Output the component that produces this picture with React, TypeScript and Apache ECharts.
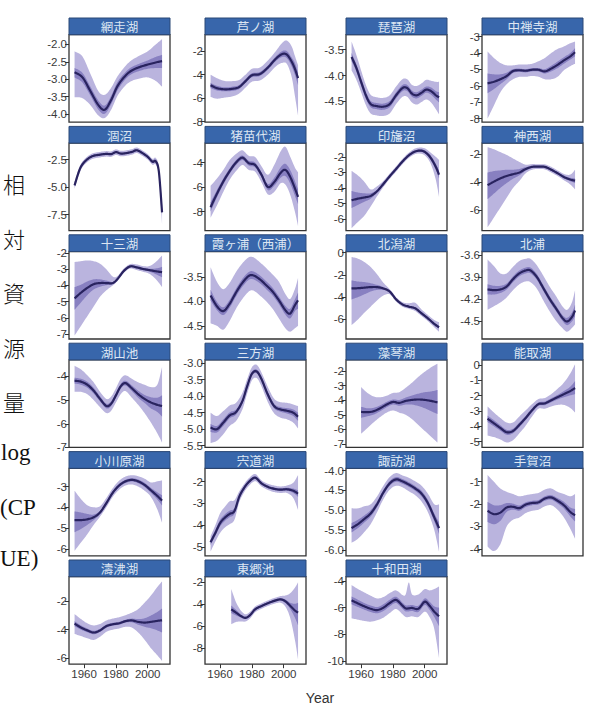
import React, { useEffect, useRef } from "react";
import * as echarts from "echarts";

// Each row: [year, median, lower 50%, upper 50%, lower 95%, upper 95%]
type Row = [number, number, number, number, number, number];

const abashiri: Row[] = [
  [1954, -2.8, -2.95, -2.68, -3.52, -2.2], [1959, -2.95, -3.1, -2.82, -3.55, -2.35],
  [1964, -3.35, -3.48, -3.22, -3.75, -2.85], [1969, -3.75, -3.88, -3.62, -4.05, -3.35],
  [1973, -3.88, -4.0, -3.76, -4.12, -3.45], [1977, -3.6, -3.72, -3.48, -3.88, -3.25],
  [1981, -3.2, -3.32, -3.08, -3.48, -2.92], [1986, -2.9, -3.0, -2.8, -3.18, -2.62],
  [1990, -2.75, -2.85, -2.65, -3.05, -2.45], [1995, -2.65, -2.76, -2.55, -2.98, -2.32],
  [2000, -2.58, -2.7, -2.46, -2.95, -2.2], [2005, -2.52, -2.68, -2.36, -3.05, -2.0],
  [2009, -2.48, -2.68, -2.3, -3.22, -1.85],
];
const ashinoko: Row[] = [
  [1954, -4.9, -5.15, -4.7, -5.9, -4.0], [1958, -5.15, -5.35, -4.95, -6.05, -4.3],
  [1963, -5.25, -5.42, -5.08, -5.95, -4.55], [1968, -5.2, -5.38, -5.02, -5.85, -4.55],
  [1972, -5.05, -5.22, -4.88, -5.6, -4.45], [1976, -4.55, -4.72, -4.38, -5.1, -4.0],
  [1980, -4.05, -4.22, -3.88, -4.6, -3.5], [1985, -3.95, -4.12, -3.78, -4.5, -3.4],
  [1990, -3.4, -3.58, -3.22, -4.0, -2.8], [1995, -2.65, -2.85, -2.45, -3.3, -2.0],
  [1999, -2.25, -2.5, -2.0, -3.0, -1.3], [2002, -2.3, -2.6, -2.0, -3.1, -1.1],
  [2005, -2.9, -3.3, -2.55, -4.2, -1.6], [2007, -3.5, -4.0, -3.0, -5.8, -2.4],
  [2009, -4.3, -4.9, -3.8, -7.5, -3.2],
];
const biwako: Row[] = [
  [1954, -3.64, -3.72, -3.56, -3.9, -3.34], [1957, -3.85, -3.92, -3.78, -4.08, -3.6],
  [1960, -4.12, -4.19, -4.05, -4.32, -3.9], [1963, -4.38, -4.45, -4.31, -4.57, -4.18],
  [1966, -4.55, -4.61, -4.49, -4.73, -4.37], [1970, -4.59, -4.65, -4.53, -4.77, -4.42],
  [1974, -4.6, -4.66, -4.54, -4.78, -4.43], [1978, -4.55, -4.61, -4.49, -4.73, -4.38],
  [1982, -4.38, -4.44, -4.32, -4.55, -4.21], [1986, -4.24, -4.3, -4.18, -4.41, -4.07],
  [1989, -4.24, -4.3, -4.18, -4.41, -4.07], [1992, -4.35, -4.41, -4.29, -4.52, -4.18],
  [1995, -4.38, -4.44, -4.32, -4.56, -4.2], [1998, -4.33, -4.39, -4.27, -4.51, -4.15],
  [2001, -4.27, -4.33, -4.21, -4.46, -4.08], [2004, -4.3, -4.37, -4.23, -4.52, -4.1],
  [2007, -4.38, -4.46, -4.3, -4.65, -4.12], [2009, -4.42, -4.52, -4.32, -4.75, -4.12],
];
const chuzenjiko: Row[] = [
  [1954, -5.85, -6.45, -5.25, -8.0, -3.9], [1958, -5.75, -6.2, -5.3, -7.2, -4.3],
  [1962, -5.6, -5.9, -5.3, -6.4, -4.6], [1966, -5.4, -5.6, -5.2, -5.9, -4.75],
  [1970, -5.1, -5.22, -4.98, -5.6, -4.75], [1974, -5.05, -5.15, -4.95, -5.45, -4.7],
  [1978, -5.08, -5.18, -4.98, -5.45, -4.7], [1982, -5.02, -5.12, -4.92, -5.4, -4.65],
  [1986, -5.02, -5.12, -4.92, -5.45, -4.5], [1990, -5.12, -5.25, -4.98, -5.6, -4.3],
  [1994, -4.95, -5.12, -4.78, -5.6, -4.0], [1998, -4.72, -4.92, -4.52, -5.45, -3.75],
  [2002, -4.45, -4.65, -4.25, -5.05, -3.6], [2006, -4.2, -4.4, -4.0, -4.8, -3.4],
  [2009, -3.95, -4.2, -3.7, -4.65, -3.3],
];
const hinuma: Row[] = [
  [1954, -4.85, -4.95, -4.75, -5.15, -4.55], [1956, -3.9, -4.0, -3.8, -4.2, -3.6],
  [1958, -3.15, -3.24, -3.06, -3.42, -2.88], [1961, -2.6, -2.68, -2.52, -2.85, -2.35],
  [1965, -2.2, -2.28, -2.12, -2.45, -1.95], [1970, -2.05, -2.13, -1.97, -2.3, -1.8],
  [1974, -1.98, -2.06, -1.9, -2.23, -1.73], [1977, -2.0, -2.08, -1.92, -2.25, -1.75],
  [1980, -1.82, -1.9, -1.74, -2.07, -1.57], [1983, -1.95, -2.03, -1.87, -2.2, -1.7],
  [1986, -1.92, -2.0, -1.84, -2.17, -1.67], [1990, -1.8, -1.88, -1.72, -2.05, -1.55],
  [1993, -1.65, -1.73, -1.57, -1.9, -1.4], [1996, -1.85, -1.93, -1.77, -2.1, -1.6],
  [2000, -2.25, -2.33, -2.17, -2.5, -2.0], [2003, -2.7, -2.79, -2.61, -2.97, -2.43],
  [2005, -2.65, -2.75, -2.55, -2.95, -2.35], [2007, -3.6, -3.75, -3.45, -4.0, -3.2],
  [2009, -7.3, -7.5, -7.1, -8.4, -6.8],
];
const inawashiro: Row[] = [
  [1954, -7.65, -8.0, -7.25, -8.5, -5.9], [1958, -6.55, -6.85, -6.25, -7.5, -5.3],
  [1962, -5.55, -5.8, -5.3, -6.4, -4.6], [1966, -4.7, -4.92, -4.48, -5.4, -3.8],
  [1970, -4.0, -4.2, -3.8, -4.7, -3.3], [1974, -3.6, -3.8, -3.42, -4.2, -3.0],
  [1978, -4.05, -4.25, -3.85, -4.6, -3.45], [1982, -4.2, -4.4, -4.0, -4.75, -3.55],
  [1986, -5.0, -5.2, -4.8, -5.6, -4.3], [1990, -6.0, -6.25, -5.75, -6.6, -5.0],
  [1994, -5.6, -5.9, -5.25, -6.4, -4.2], [1998, -4.85, -5.25, -4.4, -5.7, -3.1],
  [2001, -4.6, -5.1, -4.1, -5.8, -2.7], [2004, -5.15, -5.7, -4.6, -6.6, -3.5],
  [2007, -6.1, -6.7, -5.5, -8.0, -4.4], [2009, -6.8, -7.4, -6.2, -9.2, -4.8],
];
const inbanuma: Row[] = [
  [1954, -4.8, -5.3, -4.2, -6.6, -2.9], [1958, -4.7, -5.1, -4.3, -6.2, -3.2],
  [1962, -4.62, -4.9, -4.35, -5.8, -3.6], [1966, -4.52, -4.7, -4.35, -5.2, -4.1],
  [1970, -4.22, -4.32, -4.12, -4.55, -3.9], [1974, -3.75, -3.83, -3.67, -3.95, -3.55],
  [1978, -3.25, -3.32, -3.18, -3.42, -3.08], [1982, -2.78, -2.85, -2.71, -2.95, -2.61],
  [1986, -2.3, -2.37, -2.23, -2.47, -2.13], [1990, -1.9, -1.97, -1.83, -2.07, -1.73],
  [1994, -1.65, -1.72, -1.58, -1.82, -1.46], [1998, -1.6, -1.68, -1.52, -1.8, -1.4],
  [2001, -1.75, -1.85, -1.65, -2.0, -1.5], [2004, -2.1, -2.25, -1.95, -2.5, -1.75],
  [2007, -2.65, -2.85, -2.45, -3.5, -2.0], [2009, -3.15, -3.4, -2.9, -4.6, -2.2],
];
const jinzaiko: Row[] = [
  [1954, -4.2, -5.2, -3.3, -7.2, -1.5], [1958, -3.95, -4.8, -3.2, -6.5, -1.65],
  [1962, -3.72, -4.4, -3.15, -5.8, -1.85], [1966, -3.55, -4.05, -3.1, -5.1, -2.05],
  [1970, -3.42, -3.75, -3.1, -4.4, -2.3], [1974, -3.3, -3.5, -3.05, -3.9, -2.55],
  [1978, -3.05, -3.18, -2.92, -3.35, -2.75], [1982, -2.9, -2.98, -2.82, -3.1, -2.7],
  [1986, -2.88, -2.95, -2.81, -3.05, -2.72], [1990, -2.9, -2.97, -2.83, -3.08, -2.72],
  [1994, -3.1, -3.18, -3.02, -3.3, -2.9], [1998, -3.35, -3.43, -3.27, -3.55, -3.15],
  [2002, -3.62, -3.72, -3.52, -3.85, -3.4], [2006, -3.8, -3.92, -3.68, -4.15, -3.45],
  [2009, -3.88, -4.05, -3.72, -4.5, -3.1],
];
const jusanko: Row[] = [
  [1954, -4.8, -5.5, -4.1, -7.1, -2.55], [1958, -4.45, -5.05, -3.95, -6.5, -2.5],
  [1962, -4.15, -4.6, -3.75, -5.9, -2.45], [1966, -3.92, -4.25, -3.62, -5.3, -2.5],
  [1970, -3.85, -4.08, -3.62, -4.7, -2.65], [1974, -3.85, -3.98, -3.7, -4.3, -3.0],
  [1978, -3.85, -3.92, -3.78, -4.0, -3.45], [1981, -3.6, -3.66, -3.54, -3.72, -3.42],
  [1985, -3.1, -3.16, -3.04, -3.22, -2.95], [1989, -2.82, -2.88, -2.76, -2.95, -2.68],
  [1993, -2.88, -2.95, -2.81, -3.05, -2.7], [1997, -2.98, -3.05, -2.91, -3.15, -2.8],
  [2001, -3.05, -3.14, -2.96, -3.28, -2.8], [2005, -3.12, -3.3, -2.95, -3.6, -2.55],
  [2009, -3.18, -3.5, -2.85, -4.1, -2.15],
];
const kasumigaura: Row[] = [
  [1954, -3.88, -3.98, -3.76, -4.45, -3.3], [1958, -4.1, -4.18, -4.01, -4.5, -3.6],
  [1962, -4.2, -4.28, -4.12, -4.58, -3.75], [1966, -4.05, -4.13, -3.97, -4.4, -3.62],
  [1970, -3.82, -3.9, -3.74, -4.15, -3.4], [1974, -3.62, -3.7, -3.54, -3.95, -3.22],
  [1978, -3.48, -3.56, -3.4, -3.8, -3.1], [1981, -3.47, -3.55, -3.39, -3.78, -3.1],
  [1985, -3.55, -3.63, -3.47, -3.88, -3.2], [1989, -3.67, -3.75, -3.59, -4.0, -3.32],
  [1993, -3.8, -3.88, -3.72, -4.15, -3.45], [1997, -3.98, -4.06, -3.9, -4.35, -3.6],
  [2001, -4.18, -4.27, -4.09, -4.55, -3.85], [2004, -4.25, -4.35, -4.15, -4.62, -3.95],
  [2007, -4.08, -4.2, -3.96, -4.55, -3.75], [2009, -3.98, -4.15, -3.82, -4.5, -3.52],
];
const kitagatako: Row[] = [
  [1954, -3.22, -4.2, -2.5, -6.5, -0.4], [1958, -3.2, -4.0, -2.6, -6.0, -0.55],
  [1962, -3.15, -3.75, -2.65, -5.4, -0.85], [1966, -3.1, -3.5, -2.75, -4.85, -1.3],
  [1970, -3.1, -3.35, -2.9, -4.3, -1.95], [1974, -3.22, -3.35, -3.1, -3.85, -2.7],
  [1978, -3.5, -3.58, -3.42, -3.75, -3.3], [1982, -4.2, -4.28, -4.12, -4.4, -4.0],
  [1986, -4.65, -4.73, -4.57, -4.85, -4.45], [1990, -4.85, -4.93, -4.77, -5.05, -4.55],
  [1994, -5.0, -5.08, -4.92, -5.25, -4.5], [1998, -5.45, -5.55, -5.35, -5.7, -5.1],
  [2002, -5.9, -6.0, -5.8, -6.15, -5.6], [2006, -6.4, -6.5, -6.3, -6.7, -6.05],
  [2009, -6.7, -6.82, -6.58, -7.1, -6.25],
];
const kitaura: Row[] = [
  [1954, -4.07, -4.14, -4.0, -4.35, -3.66], [1958, -4.08, -4.14, -4.02, -4.3, -3.75],
  [1962, -4.07, -4.12, -4.02, -4.25, -3.85], [1966, -4.03, -4.07, -3.99, -4.18, -3.85],
  [1970, -3.93, -3.97, -3.89, -4.08, -3.76], [1974, -3.85, -3.89, -3.81, -4.0, -3.68],
  [1978, -3.81, -3.85, -3.77, -3.96, -3.65], [1981, -3.81, -3.85, -3.77, -3.97, -3.65],
  [1985, -3.9, -3.94, -3.86, -4.06, -3.74], [1989, -4.05, -4.09, -4.01, -4.22, -3.88],
  [1993, -4.2, -4.24, -4.16, -4.37, -4.03], [1997, -4.33, -4.37, -4.29, -4.5, -4.16],
  [2001, -4.46, -4.5, -4.42, -4.6, -4.3], [2004, -4.51, -4.56, -4.46, -4.65, -4.35],
  [2007, -4.45, -4.51, -4.39, -4.6, -4.25], [2009, -4.36, -4.44, -4.28, -4.55, -4.08],
];
const koyamaike: Row[] = [
  [1954, -4.18, -4.3, -4.05, -4.65, -3.55], [1958, -4.22, -4.35, -4.1, -4.65, -3.7],
  [1962, -4.35, -4.48, -4.22, -4.75, -3.95], [1966, -4.6, -4.72, -4.48, -5.0, -4.25],
  [1970, -4.95, -5.06, -4.84, -5.3, -4.65], [1974, -5.25, -5.35, -5.15, -5.55, -4.95],
  [1977, -5.15, -5.25, -5.05, -5.45, -4.85], [1980, -4.8, -4.9, -4.7, -5.1, -4.5],
  [1983, -4.42, -4.52, -4.32, -4.75, -4.1], [1986, -4.28, -4.38, -4.18, -4.62, -3.95],
  [1990, -4.5, -4.62, -4.38, -4.9, -4.1], [1994, -4.75, -4.9, -4.6, -5.2, -4.25],
  [1998, -4.95, -5.12, -4.78, -5.55, -4.35], [2002, -5.1, -5.35, -4.88, -5.95, -4.45],
  [2006, -5.2, -5.5, -4.9, -6.4, -4.35], [2009, -5.25, -5.7, -4.8, -6.8, -3.6],
];
const mikatako: Row[] = [
  [1954, -4.95, -5.08, -4.84, -5.42, -4.5], [1958, -5.0, -5.1, -4.9, -5.35, -4.6],
  [1962, -4.8, -4.9, -4.7, -5.15, -4.45], [1966, -4.58, -4.67, -4.49, -4.9, -4.28],
  [1970, -4.48, -4.56, -4.4, -4.75, -4.2], [1974, -4.15, -4.22, -4.08, -4.4, -3.9],
  [1977, -3.7, -3.77, -3.63, -3.92, -3.48], [1980, -3.32, -3.38, -3.26, -3.52, -3.12],
  [1983, -3.25, -3.31, -3.19, -3.45, -3.05], [1986, -3.48, -3.54, -3.42, -3.7, -3.28],
  [1990, -3.95, -4.02, -3.88, -4.18, -3.72], [1994, -4.3, -4.37, -4.23, -4.52, -4.08],
  [1998, -4.4, -4.47, -4.33, -4.65, -4.18], [2002, -4.44, -4.52, -4.36, -4.7, -4.2],
  [2006, -4.5, -4.6, -4.4, -4.8, -4.25], [2009, -4.62, -4.75, -4.5, -4.98, -4.3],
];
const mokotoko: Row[] = [
  [1960, -4.8, -5.2, -4.45, -6.3, -3.1], [1964, -4.82, -5.1, -4.55, -5.9, -3.5],
  [1968, -4.75, -4.98, -4.52, -5.5, -3.75], [1972, -4.55, -4.75, -4.35, -5.15, -3.8],
  [1976, -4.3, -4.48, -4.12, -4.85, -3.7], [1980, -4.12, -4.3, -3.95, -4.7, -3.5],
  [1984, -4.18, -4.38, -3.98, -4.85, -3.45], [1988, -4.05, -4.3, -3.82, -5.0, -3.15],
  [1992, -3.98, -4.3, -3.68, -5.3, -2.8], [1996, -3.95, -4.4, -3.55, -5.7, -2.4],
  [2000, -3.98, -4.55, -3.45, -6.1, -2.05], [2004, -4.05, -4.75, -3.4, -6.5, -1.75],
  [2008, -4.15, -4.95, -3.3, -6.9, -1.5],
];
const notoroko: Row[] = [
  [1954, -3.5, -3.72, -3.3, -4.6, -2.7], [1958, -3.8, -4.0, -3.6, -4.7, -3.1],
  [1962, -4.1, -4.28, -3.92, -4.85, -3.45], [1966, -4.38, -4.55, -4.22, -5.05, -3.75],
  [1970, -4.3, -4.45, -4.15, -4.9, -3.75], [1974, -3.9, -4.05, -3.75, -4.45, -3.35],
  [1978, -3.45, -3.58, -3.32, -3.95, -2.95], [1982, -2.95, -3.08, -2.82, -3.35, -2.55],
  [1986, -2.55, -2.66, -2.44, -2.85, -2.22], [1990, -2.5, -2.62, -2.38, -2.85, -2.15],
  [1994, -2.3, -2.43, -2.17, -2.7, -1.9], [1998, -2.1, -2.25, -1.95, -2.6, -1.55],
  [2002, -1.9, -2.1, -1.7, -2.6, -1.15], [2006, -1.7, -1.98, -1.42, -2.8, -0.55],
  [2009, -1.5, -1.9, -1.05, -3.1, 0.05],
];
const ogawarako: Row[] = [
  [1954, -4.62, -5.2, -4.2, -6.1, -3.2], [1958, -4.62, -5.05, -4.25, -5.7, -3.6],
  [1962, -4.58, -4.85, -4.32, -5.3, -3.9], [1966, -4.48, -4.62, -4.35, -4.85, -4.0],
  [1970, -4.25, -4.33, -4.17, -4.45, -3.95], [1974, -3.8, -3.88, -3.72, -4.0, -3.55],
  [1978, -3.3, -3.38, -3.22, -3.5, -3.08], [1982, -2.95, -3.03, -2.87, -3.15, -2.72],
  [1986, -2.75, -2.83, -2.67, -2.95, -2.52], [1990, -2.68, -2.76, -2.6, -2.9, -2.45],
  [1994, -2.75, -2.84, -2.66, -3.0, -2.5], [1998, -2.92, -3.02, -2.82, -3.2, -2.62],
  [2002, -3.18, -3.3, -3.06, -3.5, -2.8], [2006, -3.45, -3.62, -3.28, -4.1, -2.75],
  [2009, -3.68, -3.92, -3.42, -4.75, -2.7],
];
const shinjiko: Row[] = [
  [1954, -4.78, -4.9, -4.66, -5.2, -4.5], [1957, -4.35, -4.48, -4.22, -4.75, -4.0],
  [1960, -3.9, -4.05, -3.75, -4.35, -3.45], [1963, -3.65, -3.8, -3.5, -4.1, -3.15],
  [1966, -3.48, -3.63, -3.33, -3.95, -2.9], [1969, -3.35, -3.48, -3.22, -3.75, -2.85],
  [1972, -2.7, -2.8, -2.6, -2.95, -2.45], [1975, -2.3, -2.38, -2.22, -2.5, -2.12],
  [1978, -2.02, -2.09, -1.95, -2.2, -1.85], [1982, -1.82, -1.89, -1.75, -1.98, -1.65],
  [1986, -2.08, -2.14, -2.02, -2.22, -1.94], [1990, -2.24, -2.3, -2.18, -2.38, -2.1],
  [1994, -2.33, -2.39, -2.27, -2.48, -2.18], [1998, -2.37, -2.43, -2.31, -2.52, -2.22],
  [2002, -2.35, -2.42, -2.28, -2.52, -2.18], [2006, -2.42, -2.52, -2.32, -2.75, -2.05],
  [2009, -2.55, -2.7, -2.4, -3.3, -1.7],
];
const suwako: Row[] = [
  [1954, -5.45, -5.56, -5.32, -5.82, -4.95], [1958, -5.35, -5.45, -5.24, -5.72, -4.95],
  [1962, -5.22, -5.31, -5.13, -5.55, -4.9], [1966, -5.08, -5.16, -5.0, -5.35, -4.85],
  [1970, -4.85, -4.92, -4.78, -5.05, -4.65], [1974, -4.55, -4.61, -4.49, -4.72, -4.38],
  [1978, -4.32, -4.38, -4.26, -4.48, -4.16], [1982, -4.22, -4.28, -4.16, -4.38, -4.06],
  [1986, -4.27, -4.33, -4.21, -4.42, -4.12], [1990, -4.35, -4.41, -4.29, -4.52, -4.18],
  [1994, -4.45, -4.51, -4.39, -4.62, -4.27], [1998, -4.58, -4.65, -4.51, -4.78, -4.38],
  [2002, -4.82, -4.9, -4.74, -5.05, -4.58], [2006, -5.18, -5.28, -5.08, -5.5, -4.85],
  [2009, -5.45, -5.6, -5.3, -6.05, -4.85],
];
const teganuma: Row[] = [
  [1954, -2.3, -2.8, -1.9, -3.9, -0.7], [1958, -2.45, -2.9, -2.05, -4.1, -1.0],
  [1962, -2.38, -2.75, -2.05, -3.8, -1.3], [1966, -2.15, -2.35, -1.95, -3.0, -1.45],
  [1970, -2.12, -2.25, -1.98, -2.7, -1.55], [1974, -2.18, -2.3, -2.06, -2.6, -1.65],
  [1978, -2.02, -2.13, -1.92, -2.4, -1.6], [1982, -1.95, -2.05, -1.85, -2.3, -1.55],
  [1986, -1.92, -2.02, -1.82, -2.25, -1.5], [1990, -1.75, -1.85, -1.65, -2.1, -1.35],
  [1994, -1.7, -1.8, -1.6, -2.05, -1.3], [1998, -1.85, -1.97, -1.73, -2.25, -1.45],
  [2002, -2.05, -2.2, -1.9, -2.6, -1.55], [2006, -2.35, -2.55, -2.15, -3.1, -1.65],
  [2009, -2.5, -2.78, -2.22, -3.55, -1.55],
];
const tofutsuko: Row[] = [
  [1954, -3.57, -3.75, -3.4, -4.3, -2.9], [1958, -3.85, -4.0, -3.7, -4.45, -3.25],
  [1962, -4.05, -4.18, -3.92, -4.6, -3.55], [1966, -4.2, -4.32, -4.08, -4.72, -3.7],
  [1970, -4.05, -4.16, -3.94, -4.5, -3.6], [1974, -3.75, -3.86, -3.64, -4.15, -3.35],
  [1978, -3.62, -3.72, -3.52, -4.0, -3.22], [1982, -3.55, -3.65, -3.45, -3.92, -3.12],
  [1986, -3.4, -3.5, -3.3, -3.8, -2.98], [1990, -3.35, -3.48, -3.22, -3.85, -2.8],
  [1994, -3.45, -3.65, -3.25, -4.2, -2.55], [1998, -3.5, -3.8, -3.2, -4.7, -2.1],
  [2002, -3.45, -3.9, -3.0, -5.3, -1.6], [2006, -3.38, -4.05, -2.75, -5.8, -1.0],
  [2009, -3.34, -4.2, -2.5, -6.2, -0.6],
];
const togoike: Row[] = [
  [1967, -4.45, -4.8, -4.1, -5.8, -2.6], [1970, -4.75, -5.0, -4.5, -5.6, -3.8],
  [1973, -5.05, -5.2, -4.9, -5.55, -4.55], [1976, -5.22, -5.32, -5.12, -5.55, -4.9],
  [1979, -4.95, -5.05, -4.85, -5.25, -4.65], [1982, -4.45, -4.55, -4.35, -4.72, -4.2],
  [1986, -4.15, -4.24, -4.06, -4.4, -3.9], [1990, -3.9, -3.99, -3.81, -4.15, -3.65],
  [1994, -3.68, -3.77, -3.59, -3.95, -3.42], [1998, -3.55, -3.65, -3.45, -3.85, -3.25],
  [2001, -3.72, -3.88, -3.56, -4.2, -3.2], [2004, -4.12, -4.4, -3.85, -5.2, -3.0],
  [2007, -4.55, -5.2, -3.95, -7.2, -2.5], [2009, -4.75, -5.9, -3.85, -9.0, -2.0],
];
const towadako: Row[] = [
  [1954, -5.45, -5.75, -5.15, -6.8, -4.3], [1958, -5.68, -5.95, -5.4, -6.9, -4.6],
  [1962, -5.9, -6.15, -5.65, -7.0, -4.85], [1966, -6.08, -6.32, -5.84, -7.05, -5.1],
  [1970, -6.18, -6.42, -5.95, -6.95, -5.3], [1974, -6.0, -6.25, -5.75, -6.75, -5.2],
  [1978, -5.65, -5.9, -5.4, -6.4, -4.9], [1982, -5.42, -5.65, -5.18, -6.1, -4.7],
  [1986, -5.85, -6.08, -5.62, -6.5, -5.05], [1988, -6.05, -6.28, -5.82, -6.7, -5.0],
  [1990, -6.05, -6.28, -5.82, -6.7, -4.1], [1992, -6.02, -6.25, -5.8, -6.65, -5.0],
  [1996, -6.08, -6.32, -5.85, -6.7, -5.0], [2000, -5.55, -5.8, -5.3, -6.3, -4.6],
  [2003, -5.85, -6.15, -5.55, -6.7, -4.7], [2006, -6.3, -6.7, -5.9, -7.6, -4.6],
  [2009, -6.65, -7.4, -6.0, -9.8, -4.4],
];

// Panels in reading order (4 per row)
const lakeNames = [
  "網走湖", "芦ノ湖", "琵琶湖", "中禅寺湖",
  "涸沼", "猪苗代湖", "印旛沼", "神西湖",
  "十三湖", "霞ヶ浦（西浦）", "北潟湖", "北浦",
  "湖山池", "三方湖", "藻琴湖", "能取湖",
  "小川原湖", "宍道湖", "諏訪湖", "手賀沼",
  "濤沸湖", "東郷池", "十和田湖",
];
const lakeRows: Row[][] = [
  abashiri, ashinoko, biwako, chuzenjiko,
  hinuma, inawashiro, inbanuma, jinzaiko,
  jusanko, kasumigaura, kitagatako, kitaura,
  koyamaike, mikatako, mokotoko, notoroko,
  ogawarako, shinjiko, suwako, teganuma,
  tofutsuko, togoike, towadako,
];
// y-axis limits [min, max] per panel
const yLimits: [number, number][] = [
  [-4.24, -1.72], [-8.05, -0.6], [-4.9, -3.21], [-8.22, -2.88],
  [-8.96, -1.0], [-9.56, -2.41], [-6.76, -1.11], [-7.43, -1.21],
  [-7.31, -1.9], [-4.77, -2.98], [-7.75, 0.09], [-4.75, -3.55],
  [-7.0, -3.3], [-5.55, -2.9], [-7.23, -1.24], [-5.37, 0.33],
  [-6.34, -2.12], [-5.4, -1.39], [-6.15, -3.94], [-4.31, -0.4],
  [-6.43, -0.27], [-9.43, -1.49], [-10.25, -3.67],
];
// y tick values per panel
const yTicks: number[][] = [
  [-4.0, -3.5, -3.0, -2.5, -2.0], [-8, -6, -4, -2], [-4.5, -4.0, -3.5], [-8, -7, -6, -5, -4, -3],
  [-7.5, -5.0, -2.5], [-8, -6, -4], [-6, -5, -4, -3, -2], [-6, -4, -2],
  [-7, -6, -5, -4, -3, -2], [-4.5, -4.0, -3.5], [-6, -4, -2, 0], [-4.5, -4.2, -3.9, -3.6],
  [-7, -6, -5, -4], [-5.5, -5.0, -4.5, -4.0, -3.5, -3.0], [-7, -6, -5, -4, -3, -2], [-5, -4, -3, -2, -1, 0],
  [-6, -5, -4, -3], [-5, -4, -3, -2], [-6.0, -5.5, -5.0, -4.5, -4.0], [-4, -3, -2, -1],
  [-6, -4, -2], [-8, -6, -4, -2], [-10, -8, -6, -4],
];
const yDecimals = [1, 0, 1, 0, 1, 0, 0, 0, 0, 1, 0, 1, 0, 1, 0, 0, 0, 0, 1, 0, 0, 0, 0];
const yearTicks = [1960, 1980, 2000];
const yearRange: [number, number] = [1950.5, 2014];

const yLabelLines = ["相", "対", "資", "源", "量"];

const OUTER = "#bab4de";
const INNER = "#8880c1";
const LINE = "#29235f";
const STRIP = "#3866ab";

// Catmull-Rom smoothing of a pixel polyline
function smoothPts(pts: number[][]): number[][] {
  if (pts.length < 3) return pts;
  const out: number[][] = [];
  const n = pts.length;
  const steps = 8;
  for (let k = 0; k < n - 1; k++) {
    const p0 = pts[Math.max(0, k - 1)];
    const p1 = pts[k];
    const p2 = pts[k + 1];
    const p3 = pts[Math.min(n - 1, k + 2)];
    for (let s = 0; s < steps; s++) {
      const t = s / steps, t2 = t * t, t3 = t2 * t;
      const f = (a: number, b: number, c: number, d: number) =>
        0.5 * (2 * b + (-a + c) * t + (2 * a - 5 * b + 4 * c - d) * t2 + (-a + 3 * b - 3 * c + d) * t3);
      out.push([f(p0[0], p1[0], p2[0], p3[0]), f(p0[1], p1[1], p2[1], p3[1])]);
    }
  }
  out.push(pts[n - 1]);
  return out;
}

function buildOption() {
  const colLeft = [69, 205, 346, 482];
  const panelW = 101;
  const stripH = 16.7;
  const plotH = 87.5;
  const rowTop = (r: number) => 18 + r * 108.4;
  const tickFont = "Liberation Sans, Arial, sans-serif";

  const grid: any[] = [];
  const xAxis: any[] = [];
  const yAxis: any[] = [];
  const series: any[] = [];
  const graphic: any[] = [];

  lakeNames.forEach((name, i) => {
    const col = i % 4;
    const row = Math.floor(i / 4);
    const left = colLeft[col];
    const top = rowTop(row);
    const bottomRow = row === 5;
    const rows = lakeRows[i];

    grid.push({
      left, top: top + stripH, width: panelW, height: plotH,
      show: true, backgroundColor: "#ffffff", borderColor: "#333333", borderWidth: 1.3,
    });
    xAxis.push({
      type: "value", gridIndex: i, min: yearRange[0], max: yearRange[1],
      axisLine: { show: false }, splitLine: { show: false },
      axisTick: { show: bottomRow, customValues: yearTicks, length: 4, lineStyle: { color: "#333" } },
      axisLabel: {
        show: bottomRow, customValues: yearTicks, fontSize: 11.5, color: "#3a3a3a",
        fontFamily: tickFont, margin: 4,
        formatter: (v: number) => String(v),
      },
    });
    const dec = yDecimals[i];
    yAxis.push({
      type: "value", gridIndex: i, min: yLimits[i][0], max: yLimits[i][1],
      axisLine: { show: false }, splitLine: { show: false },
      axisTick: { show: true, customValues: yTicks[i], length: 4, lineStyle: { color: "#333" } },
      axisLabel: {
        customValues: yTicks[i], fontSize: 11.5, color: "#3a3a3a", margin: 2,
        fontFamily: tickFont,
        formatter: (v: number) => v.toFixed(dec),
      },
    });

    // bands and median drawn through the panel's own axes
    series.push({
      type: "custom", xAxisIndex: i, yAxisIndex: i, silent: true, clip: true, z: 2,
      data: rows.map((r) => [r[0], r[1]]),
      renderItem: (params: any, api: any) => {
        if (params.dataIndex !== 0) return null;
        const band = (lo: number, hi: number) => {
          const up = smoothPts(rows.map((r) => api.coord([r[0], r[hi]])));
          const dn = smoothPts(rows.map((r) => api.coord([r[0], r[lo]])));
          return up.concat(dn.reverse());
        };
        const mid = smoothPts(rows.map((r) => api.coord([r[0], r[1]])));
        return {
          type: "group",
          children: [
            { type: "polygon", shape: { points: band(4, 5) }, style: { fill: OUTER } },
            { type: "polygon", shape: { points: band(2, 3) }, style: { fill: INNER } },
            {
              type: "polyline", shape: { points: mid },
              style: { stroke: LINE, lineWidth: 2.2, fill: "none", lineJoin: "round" },
            },
          ],
        };
      },
    });

    graphic.push({
      type: "rect", z: 10,
      shape: { x: left, y: top, width: panelW, height: stripH },
      style: { fill: STRIP, stroke: "#2b4877", lineWidth: 1 },
    });
    graphic.push({
      type: "text", z: 11, x: left + panelW / 2, y: top + stripH / 2 + 0.5,
      style: {
        text: name, fill: "#dde6f3", fontSize: 12.5,
        fontFamily: "Noto Sans CJK JP, sans-serif",
        align: "center", verticalAlign: "middle",
        textAlign: "center", textVerticalAlign: "middle",
      },
    });
  });

  // vertical axis title, one glyph per line
  const serif = "Liberation Serif, DejaVu Serif, Noto Sans CJK JP, serif";
  yLabelLines.forEach((ch, k) => {
    graphic.push({
      type: "text", x: 14, y: 183 + k * 54.5,
      style: {
        text: ch, fill: "#111", fontSize: 22, fontFamily: "Noto Sans CJK JP, sans-serif",
        fontWeight: 300, align: "center", verticalAlign: "middle",
        textAlign: "center", textVerticalAlign: "middle",
      },
    });
  });
  const latin: [string, number, number][] = [
    ["log", 1, 452],
    ["(CP", 0, 507],
    ["UE)", 0, 558],
  ];
  latin.forEach(([t, x, y]) => {
    graphic.push({
      type: "text", x, y,
      style: {
        text: t, fill: "#111", fontSize: 23, fontFamily: serif,
        align: "left", verticalAlign: "middle", textAlign: "left", textVerticalAlign: "middle",
      },
    });
  });
  graphic.push({
    type: "text", x: 320, y: 698,
    style: {
      text: "Year", fill: "#333", fontSize: 14, fontFamily: tickFont,
      align: "center", verticalAlign: "middle", textAlign: "center", textVerticalAlign: "middle",
    },
  });

  return {
    animation: false,
    backgroundColor: "#ffffff",
    grid, xAxis, yAxis, series, graphic,
  };
}

export default function App() {
  const ref = useRef<HTMLDivElement>(null);
  useEffect(() => {
    if (!ref.current) return;
    const chart = echarts.init(ref.current, undefined, { renderer: "svg" });
    chart.setOption(buildOption() as any);
    return () => chart.dispose();
  }, []);
  return (
    <div
      ref={ref}
      style={{ position: "fixed", left: 0, top: 0, width: 594, height: 707, background: "#fff" }}
    />
  );
}
